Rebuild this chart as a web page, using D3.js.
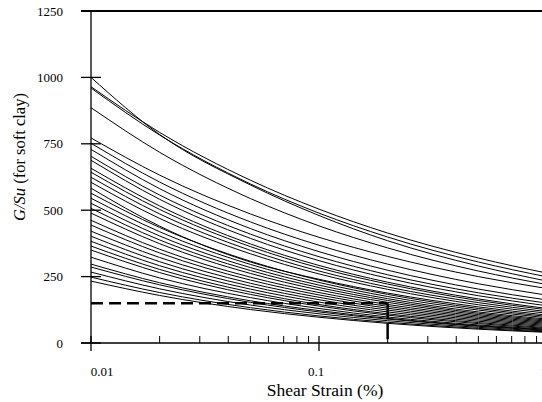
<!DOCTYPE html>
<html>
<head>
<meta charset="utf-8">
<script src="https://cdn.jsdelivr.net/npm/d3@7"></script>
<style>
  html, body { margin: 0; padding: 0; background: #fff; }
  svg { display: block; }
  text { font-family: "Liberation Serif", "Times New Roman", serif; fill: #000; }
</style>
</head>
<body>
<svg id="chart" width="542" height="402"></svg>
<script>
// ---- data ----
const strains = [0.01, 0.02, 0.05, 0.1, 0.2, 0.5, 1];
const curveValues = [
  [1000, 785, 595, 480, 385, 290, 233],
  [965, 793, 613, 504, 414, 320, 263],
  [960, 783, 599, 489, 399, 305, 249],
  [886, 718, 544, 441, 358, 271, 220],
  [772, 632, 486, 398, 326, 250, 205],
  [752, 606, 456, 368, 297, 223, 180],
  [729, 581, 431, 344, 274, 203, 162],
  [703, 557, 410, 325, 257, 189, 150],
  [688, 541, 394, 310, 244, 178, 140],
  [658, 516, 373, 292, 229, 166, 130],
  [643, 503, 363, 283, 222, 160, 125],
  [624, 486, 349, 271, 211, 152, 118],
  [605, 469, 336, 260, 202, 144, 112],
  [583, 440, 305, 240, 188, 136, 105],
  [564, 435, 308, 237, 183, 130, 100],
  [545, 419, 296, 228, 175, 124, 95],
  [526, 403, 284, 218, 167, 117, 90],
  [507, 388, 273, 209, 160, 112, 86],
  [489, 374, 262, 200, 153, 107, 82],
  [462, 353, 248, 190, 145, 102, 78],
  [444, 339, 237, 181, 138, 97, 74],
  [421, 322, 225, 172, 131, 92, 70],
  [402, 306, 214, 163, 124, 87, 66],
  [383, 291, 203, 154, 117, 82, 62],
  [365, 277, 192, 145, 110, 77, 58],
  [350, 265, 183, 139, 105, 73, 55],
  [323, 245, 171, 130, 98, 68, 52],
  [297, 227, 159, 122, 93, 65, 50],
  [286, 219, 153, 117, 90, 63, 48],
  [267, 204, 143, 110, 84, 59, 45],
  [248, 190, 133, 102, 78, 55, 42],
  [233, 179, 126, 97, 74, 52, 40]
];
const refStrain = 0.2;
const refRatio = 150;
const yTicks = [0, 250, 500, 750, 1000, 1250];
const xMajorTicks = [0.01, 0.1, 1];
const xMinorTicks = [0.02,0.03,0.04,0.05,0.06,0.07,0.08,0.09,0.2,0.3,0.4,0.5,0.6,0.7,0.8,0.9];
const xTickLabels = ["0.01", "0.1", "1"];

// ---- layout ----
const svg = d3.select("#chart");
const x = d3.scaleLog().domain([0.01, 1]).range([91, 547]);
const y = d3.scaleLinear().domain([0, 1250]).range([343, 11]);

// curves
const line = d3.line()
  .x((d, i) => x(strains[i]))
  .y(d => y(d))
  .curve(d3.curveMonotoneX);

svg.append("g").selectAll("path")
  .data(curveValues)
  .join("path")
  .attr("d", d => line(d))
  .attr("fill", "none")
  .attr("stroke", "#000")
  .attr("stroke-width", 1);

// dashed reference lines
const dashG = svg.append("g")
  .attr("stroke", "#000").attr("stroke-width", 2.5)
  .attr("stroke-dasharray", "12,6").attr("fill", "none");
dashG.append("line")
  .attr("x1", x(0.01)).attr("x2", x(refStrain))
  .attr("y1", y(refRatio)).attr("y2", y(refRatio));
dashG.append("line")
  .attr("x1", x(refStrain)).attr("x2", x(refStrain))
  .attr("y1", y(refRatio)).attr("y2", y(0))
  .attr("stroke-dasharray", "16,4");

// axes
const axG = svg.append("g").attr("stroke", "#000").attr("stroke-width", 1.3);
axG.append("line").attr("x1", x(0.01)).attr("x2", x(0.01))
  .attr("y1", y(1250)).attr("y2", y(0));
axG.append("line").attr("x1", 81).attr("x2", 542)
  .attr("y1", y(0)).attr("y2", y(0));
axG.append("line").attr("x1", 81).attr("x2", 542)
  .attr("y1", y(1250)).attr("y2", y(1250)).attr("stroke-width", 1.8);
axG.selectAll(".yt").data(yTicks).join("line")
  .attr("x1", 81).attr("x2", 101)
  .attr("y1", d => y(d)).attr("y2", d => y(d));
axG.selectAll(".xM").data(xMajorTicks).join("line")
  .attr("x1", d => x(d)).attr("x2", d => x(d))
  .attr("y1", y(0) - 7).attr("y2", y(0) + 8);
axG.selectAll(".xm").data(xMinorTicks).join("line")
  .attr("x1", d => x(d)).attr("x2", d => x(d))
  .attr("y1", y(0) - 7).attr("y2", y(0))
  .attr("stroke-width", 1);

// tick labels
svg.append("g").selectAll("text").data(yTicks).join("text")
  .attr("x", 63).attr("y", d => y(d))
  .attr("dy", "0.35em")
  .attr("text-anchor", "end")
  .attr("font-size", 13)
  .text(d => d);

svg.append("g").selectAll("text").data(xMajorTicks).join("text")
  .attr("x", (d, i) => i === 0 ? x(d) + 11 : (i === 2 ? 544 : x(d) - 3))
  .attr("y", 376)
  .attr("text-anchor", "middle")
  .attr("font-size", 13)
  .text((d, i) => xTickLabels[i]);

// axis titles
svg.append("text")
  .attr("x", 325).attr("y", 396)
  .attr("text-anchor", "middle")
  .attr("font-size", 17.5)
  .text("Shear Strain (%)");

const yt = svg.append("text")
  .attr("transform", "translate(25,157) rotate(-90)")
  .attr("text-anchor", "middle")
  .attr("font-size", 16.5);
yt.append("tspan").attr("font-style", "italic").text("G/Su");
yt.append("tspan").text(" (for soft clay)");
</script>
</body>
</html>
